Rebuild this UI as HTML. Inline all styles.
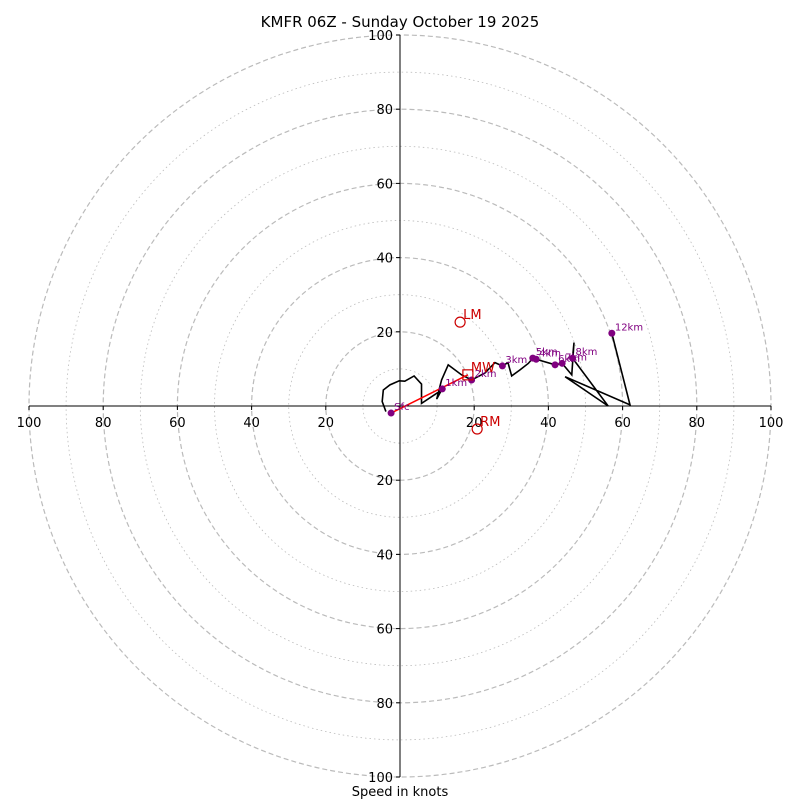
<!DOCTYPE html>
<html><head><meta charset="utf-8"><style>
body{margin:0;background:#fff}
svg{font-family:"DejaVu Sans","Liberation Sans",sans-serif}
</style></head><body>
<svg id="c" width="800" height="800"></svg>
<script>
const pathU=[-3.8,-4.8,-4.5,-2.7,-0.2,1.3,3.8,5.8,5.8,11.2,9.9,11.2,13.0,16.6,19.3,22.9,25.6,27.6,29.1,30.1,32.3,34.6,35.8,36.7,41.8,43.7,46.3,46.9,46.5,56.1,44.5,62.0,57.1];
const pathV=[-1.5,1.2,4.3,5.7,6.8,6.7,8.1,5.9,0.7,4.3,1.9,7.0,11.1,8.4,7.0,8.9,11.7,10.8,11.7,8.1,9.7,11.5,12.9,12.6,11.1,11.5,8.4,17.1,12.9,0,7.9,0.3,19.6];
const markLabels=["Sfc","1km","2km","3km","5km","4km","6km","7km","8km","12km"];
const markU=[-2.4,11.4,19.3,27.6,35.8,36.7,41.8,43.7,46.5,57.1];
const markV=[-1.9,4.6,7.0,10.8,12.9,12.6,11.1,11.5,12.9,19.6];
const motionNames=["LM","MW","RM"];
const motionU=[16.2,18.3,20.8];
const motionV=[22.6,8.4,-6.2];
const ringVals=[10,20,30,40,50,60,70,80,90,100];
const tickVals=[20,40,60,80,100];

const svg=document.getElementById('c');const NS='http://www.w3.org/2000/svg';
const cx=400,cy=406,S=3.71;
const X=u=>cx+u*S, Y=v=>cy-v*S;
function mk(t,a,p){const e=document.createElementNS(NS,t);for(const k in a)e.setAttribute(k,a[k]);(p||svg).appendChild(e);return e;}
ringVals.forEach(r=>{const e=mk('circle',{cx:cx,cy:cy,r:r*S,fill:'none',stroke:'#bbb','stroke-width':r%20?0.8:1.2,'stroke-dasharray':r%20?'1.5,3':'5,3'});

});
let e=mk('line',{x1:X(-100),y1:cy,x2:X(100),y2:cy,stroke:'#000'});


e=mk('line',{x1:cx,y1:Y(100),x2:cx,y2:Y(-100),stroke:'#000'});


tickVals.forEach(t=>{[-1,1].forEach(s=>{
 let a=mk('line',{x1:X(s*t),y1:cy,x2:X(s*t),y2:cy+4,stroke:'#000'});
 
 
 let tx=mk('text',{x:X(s*t),y:cy+21,'text-anchor':'middle','font-size':13});tx.textContent=t;
 
 
 let b=mk('line',{x1:cx-4,y1:Y(s*t),x2:cx,y2:Y(s*t),stroke:'#000'});
 
 
 let ty=mk('text',{x:cx-7,y:Y(s*t)+5,'text-anchor':'end','font-size':13});ty.textContent=t;
 
 
});});
let pts=pathU.map((u,i)=>X(u)+','+Y(pathV[i])).join(' ');
e=mk('polyline',{points:pts,fill:'none',stroke:'#000','stroke-width':1.6});


e=mk('line',{x1:X(markU[0]),y1:Y(markV[0]),x2:X(motionU[1]),y2:Y(motionV[1]),stroke:'red','stroke-width':1.5});


markU.forEach((u,i)=>{
 let c=mk('circle',{cx:X(u),cy:Y(markV[i]),r:3.5,fill:'#800080'});
 
 
 let t=mk('text',{x:X(u)+3,y:Y(markV[i])-3,'font-size':10,fill:'#800080'});t.textContent=markLabels[i];
 
 
});
motionNames.forEach((n,i)=>{
 let x=X(motionU[i]),y=Y(motionV[i]),m;
 if(n==='MW')m=mk('rect',{x:x-5,y:y-5,width:10,height:10,fill:'none',stroke:'#c00','stroke-width':1.2});
 else m=mk('circle',{cx:x,cy:y,r:5,fill:'none',stroke:'#c00','stroke-width':1.2});
 
 
 let t=mk('text',{x:x+3,y:y-3,'font-size':13,fill:'#c00'});t.textContent=n;
 
 
});
e=mk('text',{x:400,y:27,'text-anchor':'middle','font-size':15});e.textContent='KMFR 06Z - Sunday October 19 2025';


e=mk('text',{x:400,y:796,'text-anchor':'middle','font-size':13});e.textContent='Speed in knots';


</script>
</body></html>
